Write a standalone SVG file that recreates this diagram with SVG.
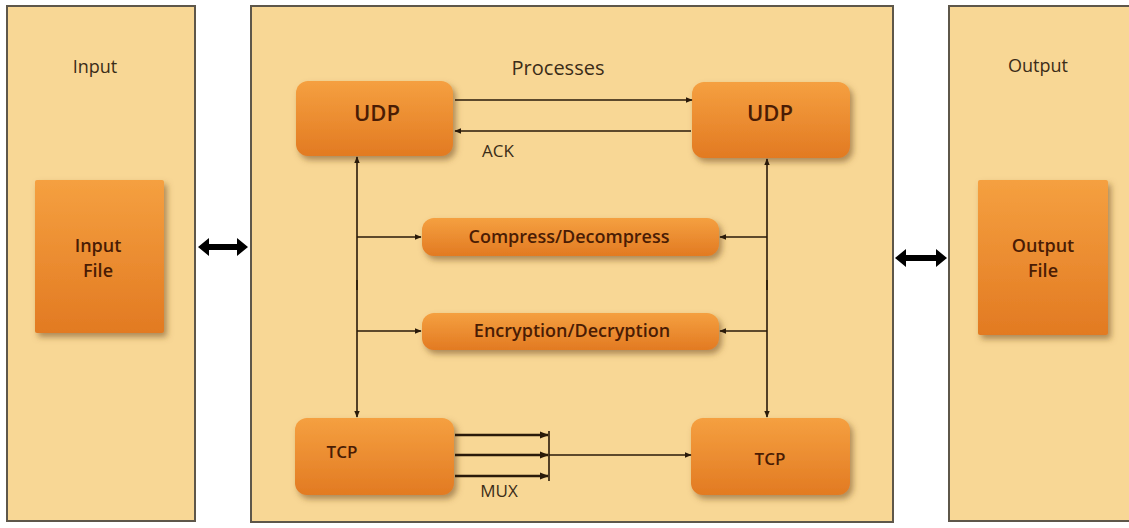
<svg xmlns="http://www.w3.org/2000/svg" width="1129" height="528" viewBox="0 0 1129 528">
<defs>
<linearGradient id="og" x1="0" y1="0" x2="0" y2="1">
<stop offset="0" stop-color="#F5A040"/>
<stop offset="1" stop-color="#E27A22"/>
</linearGradient>
<filter id="sh" x="-20%" y="-20%" width="150%" height="160%">
<feDropShadow dx="3" dy="4" stdDeviation="3" flood-color="#6e4a1a" flood-opacity="0.55"/>
</filter>
<marker id="ah" viewBox="0 0 10 10" refX="9" refY="5" markerWidth="7" markerHeight="7" markerUnits="userSpaceOnUse" orient="auto">
<path d="M0,1 L10,5 L0,9 z" fill="#2a1a0a"/>
</marker>
<marker id="ah2" viewBox="0 0 10 10" refX="9" refY="5" markerWidth="9" markerHeight="9" markerUnits="userSpaceOnUse" orient="auto">
<path d="M0,1 L10,5 L0,9 z" fill="#2a1a0a"/>
</marker>
<style>
.panel{fill:#F8D795;stroke:#5e574a;stroke-width:2}
.box{fill:url(#og);filter:url(#sh)}
.t{font-family:"Open Sans","Liberation Sans",sans-serif;text-anchor:middle;fill:#3b2c18}
.bt{font-family:"Open Sans","Liberation Sans",sans-serif;text-anchor:middle;fill:#4a1c04;font-weight:600}
.ln{stroke:#2a1a0a;stroke-width:1.6;fill:none}
.lnb{stroke:#2a1a0a;stroke-width:2.6;fill:none}
.dbl{fill:#000}
</style>
</defs>
<rect width="1129" height="528" fill="#ffffff"/>

<g id="input-panel">
<rect class="panel" x="7" y="6" width="188" height="515"/>
<text class="t" x="95" y="73" font-size="18">Input</text>
</g>
<g id="input-file">
<rect class="box" x="35" y="180" width="129" height="153" rx="2"/>
<text class="bt" x="98" y="252" font-size="18">Input</text>
<text class="bt" x="98" y="277" font-size="18">File</text>
</g>

<g id="processes-panel">
<rect class="panel" x="251" y="6" width="642" height="516"/>
<text class="t" x="558" y="75" font-size="20">Processes</text>
</g>

<g id="output-panel">
<rect class="panel" x="949" y="6" width="190" height="515"/>
<text class="t" x="1038" y="72" font-size="18">Output</text>
</g>
<g id="output-file">
<rect class="box" x="978" y="180" width="130" height="155" rx="2"/>
<text class="bt" x="1043" y="252" font-size="18">Output</text>
<text class="bt" x="1043" y="277" font-size="18">File</text>
</g>

<g id="udp-left">
<rect class="box" x="296" y="81" width="157" height="75" rx="12"/>
<text class="bt" x="377" y="121" font-size="22">UDP</text>
</g>
<g id="udp-right">
<rect class="box" x="692" y="82" width="158" height="76" rx="12"/>
<text class="bt" x="770" y="121" font-size="22">UDP</text>
</g>
<g id="compress">
<rect class="box" x="422" y="218" width="297" height="38" rx="12"/>
<text class="bt" x="569" y="243" font-size="18">Compress/Decompress</text>
</g>
<g id="encryption">
<rect class="box" x="422" y="313" width="297" height="37" rx="12"/>
<text class="bt" x="572" y="337" font-size="18">Encryption/Decryption</text>
</g>
<g id="tcp-left">
<rect class="box" x="295" y="418" width="159" height="77" rx="12"/>
<text class="bt" x="342" y="458" font-size="17">TCP</text>
</g>
<g id="tcp-right">
<rect class="box" x="691" y="418" width="159" height="77" rx="12"/>
<text class="bt" x="770" y="465" font-size="17">TCP</text>
</g>

<g id="connectors">
<path class="dbl" d="M198,247 L209,238 L209,244 L237,244 L237,238 L248,247 L237,256 L237,250 L209,250 L209,256 z"/>
<path class="dbl" d="M895,258 L906,249 L906,255 L936,255 L936,249 L947,258 L936,267 L936,261 L906,261 L906,267 z"/>
<line class="ln" x1="455" y1="100" x2="692" y2="100" marker-end="url(#ah)"/>
<line class="ln" x1="691" y1="131" x2="455" y2="131" marker-end="url(#ah)"/>
<text class="t" x="498" y="157" font-size="17">ACK</text>
<line class="ln" x1="357" y1="290" x2="357" y2="157" marker-end="url(#ah)"/>
<line class="ln" x1="357" y1="280" x2="357" y2="417" marker-end="url(#ah)"/>
<line class="ln" x1="767" y1="290" x2="767" y2="159" marker-end="url(#ah)"/>
<line class="ln" x1="767" y1="280" x2="767" y2="417" marker-end="url(#ah)"/>
<line class="ln" x1="357" y1="237" x2="421" y2="237" marker-end="url(#ah)"/>
<line class="ln" x1="357" y1="331" x2="421" y2="331" marker-end="url(#ah)"/>
<line class="ln" x1="767" y1="237" x2="720" y2="237" marker-end="url(#ah)"/>
<line class="ln" x1="767" y1="331" x2="720" y2="331" marker-end="url(#ah)"/>
<line class="lnb" x1="455" y1="435" x2="548" y2="435" marker-end="url(#ah2)"/>
<line class="lnb" x1="455" y1="455" x2="548" y2="455" marker-end="url(#ah2)"/>
<line class="lnb" x1="455" y1="476" x2="548" y2="476" marker-end="url(#ah2)"/>
<line class="ln" x1="549" y1="431" x2="549" y2="481"/>
<line class="ln" x1="549" y1="455" x2="691" y2="455" marker-end="url(#ah)"/>
<text class="t" x="499" y="497" font-size="17">MUX</text>
</g>
</svg>
